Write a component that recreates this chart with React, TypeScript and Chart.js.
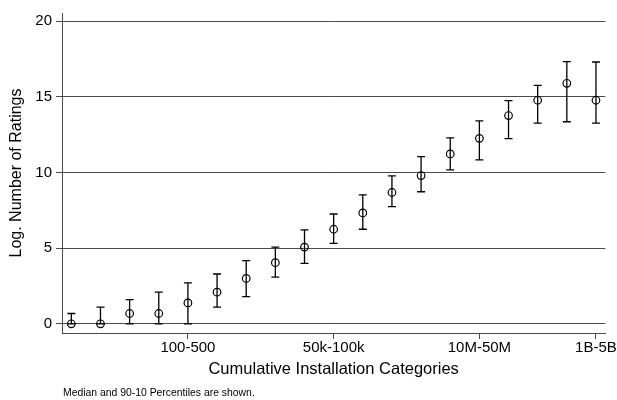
import React, { useEffect, useRef } from "react";
import { Chart, registerables } from "chart.js";

Chart.register(...registerables);

const categories = [
  "1-5", "5-10", "10-50", "50-100", "100-500", "500-1k", "1k-5k", "5k-10k",
  "10k-50k", "50k-100k", "100k-500k", "500k-1M", "1M-5M", "5M-10M",
  "10M-50M", "50M-100M", "100M-500M", "500M-1B", "1B-5B",
];
const labeledCategories = ["100-500", "50k-100k", "10M-50M", "1B-5B"];
const medians = [0, 0, 0.68, 0.68, 1.38, 2.09, 3.0, 4.04, 5.07, 6.25, 7.33, 8.68, 9.8, 11.23, 12.26, 13.77, 14.78, 15.9, 14.78];
const p10 = [0, 0, 0, 0, 0, 1.1, 1.8, 3.09, 3.99, 5.31, 6.25, 7.74, 8.73, 10.18, 10.84, 12.24, 13.27, 13.36, 13.27];
const p90 = [0.68, 1.1, 1.6, 2.09, 2.7, 3.29, 4.17, 5.07, 6.21, 7.26, 8.53, 9.78, 11.05, 12.29, 13.42, 14.76, 15.77, 17.33, 17.31];
const yTicks = [0, 5, 10, 15, 20];
const yTitle = "Log. Number of Ratings";
const xTitle = "Cumulative Installation Categories";
const note = "Median and 90-10 Percentiles are shown.";

const FONT = "'Liberation Sans', Arial, Helvetica, sans-serif";
const GRID = "#4a4a4a";

const errorBarPlugin = {
  id: "errorBars",
  beforeDatasetsDraw(chart: any) {
    const { ctx, scales } = chart;
    const xs = scales.x;
    const ys = scales.y;
    ctx.save();
    ctx.strokeStyle = "#000";
    ctx.lineWidth = 1.3;
    const cap = 4;
    for (let i = 0; i < categories.length; i++) {
      const x = xs.getPixelForValue(i);
      const yLo = ys.getPixelForValue(p10[i]);
      const yHi = ys.getPixelForValue(p90[i]);
      ctx.beginPath();
      ctx.moveTo(x, yLo);
      ctx.lineTo(x, yHi);
      ctx.moveTo(x - cap, yLo);
      ctx.lineTo(x + cap, yLo);
      ctx.moveTo(x - cap, yHi);
      ctx.lineTo(x + cap, yHi);
      ctx.stroke();
    }
    ctx.restore();
  },
  afterDraw(chart: any) {
    const { ctx } = chart;
    ctx.save();
    ctx.fillStyle = "#000";
    ctx.font = `10.4px ${FONT}`;
    ctx.textAlign = "left";
    ctx.textBaseline = "middle";
    ctx.fillText(note, 63, 393);
    ctx.restore();
  },
};

export default function App() {
  const canvasRef = useRef<HTMLCanvasElement | null>(null);

  useEffect(() => {
    if (!canvasRef.current) return;
    const chart = new Chart(canvasRef.current, {
      type: "scatter",
      data: {
        datasets: [
          {
            label: "Median",
            data: medians.map((m, i) => ({ x: i, y: m })),
            pointStyle: "circle",
            pointRadius: 3.8,
            pointBackgroundColor: "rgba(0,0,0,0)",
            pointBorderColor: "#000",
            pointBorderWidth: 1.2,
            showLine: false,
          },
        ],
      },
      options: {
        animation: false,
        responsive: true,
        maintainAspectRatio: false,
        layout: { padding: { top: 12, right: 11, bottom: 0, left: 0 } },
        plugins: {
          legend: { display: false },
          tooltip: { enabled: false },
        },
        scales: {
          x: {
            type: "linear",
            min: -0.32,
            max: 18.32,
            afterBuildTicks: (axis: any) => {
              axis.ticks = labeledCategories.map((l) => ({ value: categories.indexOf(l) }));
            },
            afterFit: (scale: any) => {
              scale.height = 67;
            },
            ticks: {
              autoSkip: false,
              maxRotation: 0,
              color: "#000",
              padding: 0,
              font: { family: FONT, size: 15 },
              callback: (v: any) => categories[v as number] ?? "",
            },
            grid: {
              drawOnChartArea: false,
              drawTicks: true,
              tickLength: 6,
              color: GRID,
              lineWidth: 1,
            },
            border: { display: true, color: GRID, width: 1 },
            title: {
              display: true,
              text: xTitle,
              color: "#000",
              font: { family: FONT, size: 16.5 },
              padding: { top: 0, bottom: 21 },
            },
          },
          y: {
            type: "linear",
            min: -0.61,
            max: 20.55,
            afterBuildTicks: (axis: any) => {
              axis.ticks = yTicks.map((v) => ({ value: v }));
            },
            afterFit: (scale: any) => {
              scale.width = 62;
            },
            ticks: {
              color: "#000",
              padding: 4,
              font: { family: FONT, size: 15 },
              callback: (v: any) => String(v),
            },
            grid: {
              drawOnChartArea: true,
              drawTicks: true,
              tickLength: 6,
              color: GRID,
              lineWidth: 1,
            },
            border: { display: true, color: GRID, width: 1 },
            title: {
              display: true,
              text: yTitle,
              color: "#000",
              font: { family: FONT, size: 16 },
              padding: { top: 7, bottom: 0 },
            },
          },
        },
      },
      plugins: [errorBarPlugin],
    } as any);
    return () => chart.destroy();
  }, []);

  return (
    <div style={{ position: "absolute", left: 0, top: 0, width: 617, height: 400, background: "#fff" }}>
      <canvas ref={canvasRef} />
    </div>
  );
}
